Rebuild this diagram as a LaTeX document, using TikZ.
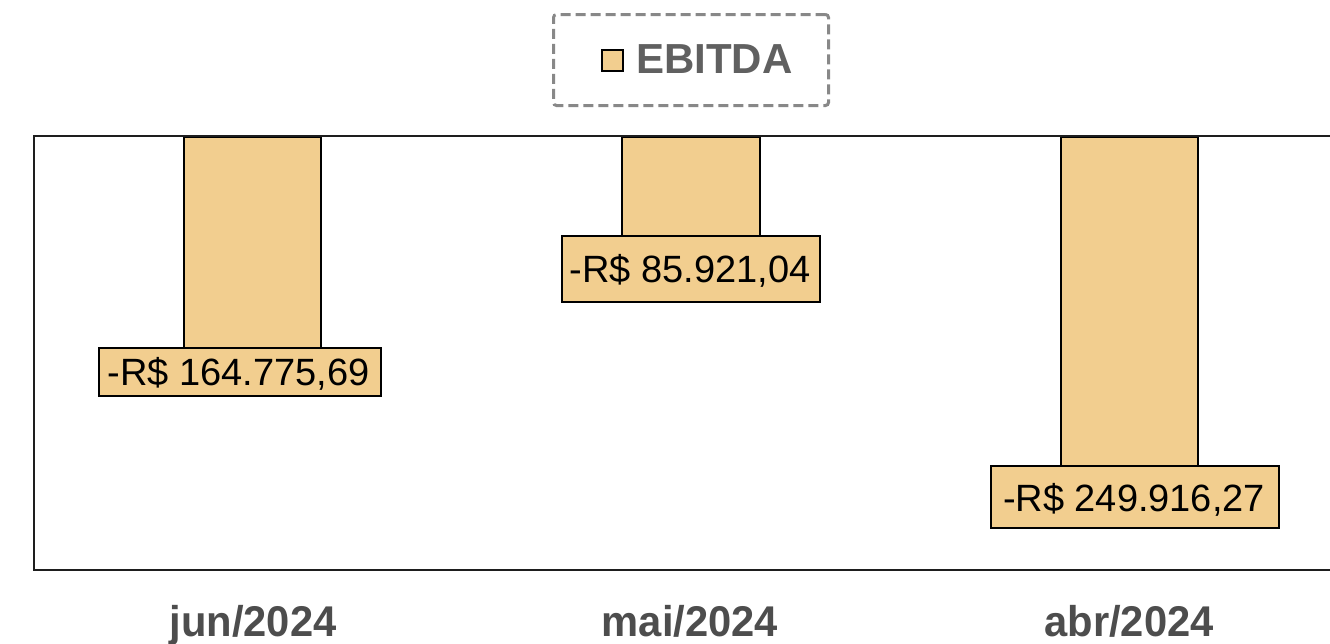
\documentclass[tikz,border=0pt]{standalone}
\usepackage{fontspec}
\setmainfont{Liberation Sans}
\definecolor{barfill}{HTML}{F2CE8F}
\definecolor{leggray}{HTML}{888888}
\definecolor{legtext}{HTML}{606060}
\definecolor{axtext}{HTML}{4D4D4D}
\definecolor{framec}{HTML}{1E1E1E}
\begin{document}
\begin{tikzpicture}[x=1pt,y=-1pt,
  barbox/.style={draw=black,line width=1.9pt,fill=barfill,inner sep=0pt,anchor=north west},
  valbox/.style={draw=black,line width=1.9pt,fill=barfill,inner sep=0pt,anchor=north west},
  valtext/.style={anchor=base,inner sep=0pt,font=\fontsize{38}{40}\selectfont,text=black},
  axlabel/.style={anchor=base,inner sep=0pt,font=\fontsize{43}{45}\selectfont\bfseries,text=axtext,xscale=0.97}]
\useasboundingbox (0,0) rectangle (1330,643);
\fill[white] (0,0) rectangle (1330,643);
% legend
\node[draw=leggray,dash pattern=on 10pt off 5pt,line width=3pt,rounded corners=3pt,minimum width=275pt,minimum height=91pt,anchor=north west,inner sep=0pt] (legend) at (552,13) {};
\node[draw=black,line width=1.9pt,fill=barfill,minimum width=21pt,minimum height=21pt,anchor=north west,inner sep=0pt] (legsq) at (601,49) {};
\node[anchor=base west,inner sep=0pt,font=\fontsize{42}{44}\selectfont\bfseries,text=legtext] (legtxt) at (636,73) {EBITDA};
% bars
\node[barbox,minimum width=137pt,minimum height=211pt] (bar1) at (183,136) {};
\node[barbox,minimum width=138pt,minimum height=99pt] (bar2) at (621,136) {};
\node[barbox,minimum width=137pt,minimum height=329pt] (bar3) at (1060,136) {};
% value labels
\node[valbox,minimum width=282pt,minimum height=48pt] (lab1) at (98,347) {};
\node[valtext] (txt1) at (238.5,385) {-R\$ 164.775,69};
\node[valbox,minimum width=258pt,minimum height=66pt] (lab2) at (561,235) {};
\node[valtext] (txt2) at (690,282) {-R\$ 85.921,04};
\node[valbox,minimum width=288pt,minimum height=62pt] (lab3) at (990,465) {};
\node[valtext] (txt3) at (1134,511) {-R\$ 249.916,27};
% frame
\coordinate (tr) at (1335,136);
\coordinate (tl) at (34,136);
\coordinate (bl) at (34,570);
\coordinate (br) at (1335,570);
\draw[framec,line width=2.4pt] (tr) -- (tl) -- (bl) -- (br);
% axis labels
\node[axlabel] (ax1) at (253,636) {jun/2024};
\node[axlabel] (ax2) at (690,636) {mai/2024};
\node[axlabel] (ax3) at (1129,636) {abr/2024};
\end{tikzpicture}
\end{document}
